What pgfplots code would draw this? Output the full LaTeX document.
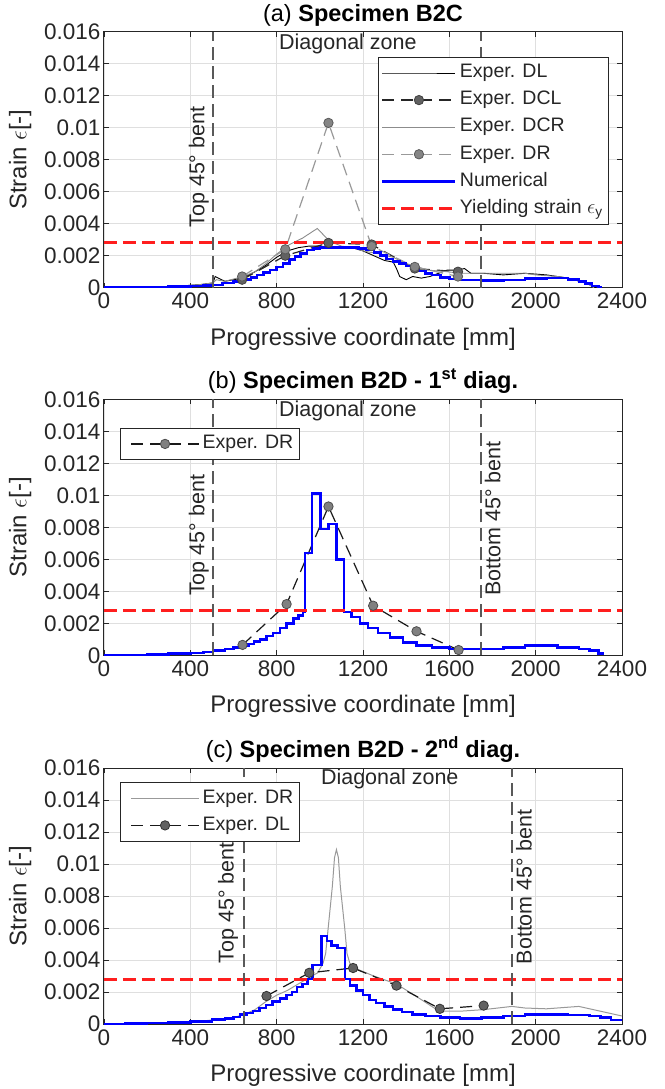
\documentclass[border=0pt]{standalone}
\usepackage{fontspec}
\setmainfont{Liberation Sans}
\usepackage{pgfplots}
\pgfplotsset{compat=1.18}
\definecolor{myred}{RGB}{255,30,30}
\definecolor{txt}{gray}{0.15}
\definecolor{vline}{gray}{0.35}
\newcommand{\tickfont}{\fontsize{22.5}{26}\selectfont}
\newcommand{\labfont}{\fontsize{24}{28}\selectfont}
\newcommand{\legfont}{\fontsize{19.5}{22}\selectfont}
\newcommand{\txtfont}{\fontsize{21.5}{25}\selectfont}
\pgfplotsset{
  panel/.style={
    width=518pt, height=256pt, scale only axis,
    xmin=0, xmax=2400, ymin=0, ymax=0.016,
    xtick={0,400,800,1200,1600,2000,2400},
    xticklabels={0,400,800,1200,1600,2000,2400},
    ytick={0,0.002,0.004,0.006,0.008,0.01,0.012,0.014,0.016},
    yticklabels={0,0.002,0.004,0.006,0.008,0.01,0.012,0.014,0.016},
    scaled y ticks=false,
    grid=major, major grid style={gray!25, line width=0.8pt},
    tick align=inside, major tick length=5pt,
    tick style={txt, line width=0.8pt},
    axis line style={txt, line width=1pt},
    ticklabel style={font=\tickfont, text=txt},
    xticklabel style={yshift=-2pt},
    xlabel={Progressive coordinate [mm]},
    ylabel={Strain $\epsilon$[-]},
    label style={font=\labfont, text=txt},
    xlabel style={at={(axis description cs:0.5,-0.2)}, anchor=center},
    ylabel style={at={(axis description cs:-0.162,0.5)}, anchor=center},
    title style={font=\fontsize{23.5}{27}\selectfont, text=black, at={(axis description cs:0.5,1)}, anchor=base, yshift=4.5pt},
    legend cell align=left,
    legend style={font=\legfont, draw=txt, line width=0.8pt, fill=white, text=txt,
      nodes={text height=14pt, text depth=4.5pt, inner ysep=4.3pt, inner xsep=3pt}},
    legend image code/.code={\draw[mark repeat=2,mark phase=2,##1] plot coordinates {(0pt,0pt) (36.5pt,0pt) (73pt,0pt)};},
  },
  shortleg/.style={legend image code/.code={\path (0pt,0pt); \draw[mark repeat=2,mark phase=2,##1] plot coordinates {(7pt,0pt) (41pt,0pt) (75pt,0pt)};}},
  numer/.style={blue, line width=2.5pt, const plot},
  yield/.style={myred, line width=3pt, dash pattern=on 13pt off 6pt},
}
\begin{document}
\begin{tikzpicture}
\path[use as bounding box] (-104pt,-801.3pt) rectangle (560pt,287.7pt);
% ---------------- (a)
\begin{axis}[panel, at={(0pt,0pt)},
  title={(a) \textbf{Specimen B2C}},
  legend style={at={(axis description cs:0.975,0.901)}, anchor=north east}]
\addplot[black, line width=0.9pt] coordinates {(0,0) (300,0.00005) (450,0.0002) (505,0.0003) (515,0.0007) (530,0.0006) (560,0.0004) (600,0.0005) (645,0.0006) (700,0.001) (750,0.0014) (800,0.0019) (850,0.0023) (900,0.0025) (950,0.0026) (1000,0.0026) (1050,0.0025) (1100,0.0025) (1150,0.0025) (1200,0.0023) (1250,0.002) (1300,0.0017) (1340,0.0016) (1355,0.0012) (1370,0.0007) (1400,0.0005) (1430,0.0007) (1470,0.0006) (1510,0.0007) (1550,0.0009) (1590,0.0011) (1640,0.0011) (1670,0.0012) (1700,0.0009) (1760,0.0009) (1850,0.0008) (1950,0.0009) (2050,0.0008) (2150,0.0006) (2230,0.0003) (2280,0)};
\addlegendentry{Exper. DL}
\addplot[black!85, line width=1.2pt, dash pattern=on 12pt off 7pt, mark=*, mark size=4.7pt, mark options={solid, fill=black!62, draw=black!75, line width=0.8pt}] coordinates {(640,0.0005) (840,0.0020) (1040,0.0028) (1240,0.0027) (1440,0.0012) (1640,0.0010)};
\addlegendentry{Exper. DCL}
\addplot[black!45, line width=0.9pt] coordinates {(0,0) (300,0.00005) (450,0.0002) (505,0.0003) (520,0.0005) (560,0.0004) (645,0.0007) (700,0.001) (750,0.0015) (800,0.0021) (860,0.0027) (920,0.0031) (988,0.0037) (1046,0.0029) (1100,0.0026) (1150,0.0025) (1200,0.0023) (1280,0.0021) (1340,0.0019) (1400,0.0015) (1430,0.0014) (1500,0.0011) (1590,0.001) (1650,0.0009) (1750,0.0009) (1850,0.0009) (1950,0.0009) (2000,0.0008) (2100,0.0007) (2150,0.0006) (2235,0.0003) (2270,0)};
\addlegendentry{Exper. DCR}
\addplot[black!40, line width=1.2pt, dash pattern=on 12pt off 7pt, mark=*, mark size=4.7pt, mark options={solid, fill=black!48, draw=black!65, line width=0.8pt}] coordinates {(640,0.0007) (840,0.0024) (1040,0.0103) (1240,0.0026) (1440,0.0013) (1640,0.0007)};
\addlegendentry{Exper. DR}
\addplot[numer] coordinates {(0,0) (100,0.00001) (200,0.00003) (300,0.00006) (400,0.0001) (460,0.00013) (505,0.00018) (550,0.00028) (600,0.0004) (640,0.0005) (680,0.00065) (710,0.0008) (740,0.00095) (770,0.0011) (800,0.0013) (830,0.0015) (860,0.00175) (885,0.00195) (910,0.00215) (940,0.00235) (970,0.00245) (1000,0.0025) (1150,0.0025) (1180,0.00245) (1215,0.00235) (1250,0.0022) (1280,0.002) (1310,0.0018) (1340,0.00165) (1370,0.0015) (1400,0.00135) (1430,0.0012) (1460,0.00105) (1490,0.0009) (1520,0.00078) (1560,0.00065) (1600,0.00055) (1650,0.00048) (1750,0.00044) (1850,0.00048) (1950,0.00058) (2050,0.00062) (2100,0.0006) (2150,0.00052) (2200,0.0004) (2230,0.00025) (2260,0.00012) (2290,0.00003) (2300,0)};
\addlegendentry{Numerical}
\addplot[yield] coordinates {(0,0.0028) (2400,0.0028)};
\addlegendentry{Yielding strain $\epsilon_{\mathrm{y}}$}
\draw[vline, line width=2pt, dash pattern=on 13pt off 6pt] (axis cs:505,0) -- (axis cs:505,0.016);
\draw[vline, line width=2pt, dash pattern=on 13pt off 6pt] (axis cs:1745,0) -- (axis cs:1745,0.016);
\node[font=\txtfont, text=txt] at (axis cs:1130,0.01523) {Diagonal zone};
\node[font=\txtfont, text=txt, rotate=90, anchor=south, inner sep=4pt] at (axis cs:505,0.00754) {Top 45° bent};
\end{axis}
% ---------------- (b)
\begin{axis}[panel, shortleg, at={(0pt,-367.6pt)},
  title={(b) \textbf{Specimen B2D - 1\textsuperscript{st} diag.}},
  legend style={at={(axis description cs:0.031,0.888)}, anchor=north west}]
\addplot[black!90, line width=1.2pt, dash pattern=on 12pt off 7pt, mark=*, mark size=4.7pt, mark options={solid, fill=black!50, draw=black!70, line width=0.8pt}] coordinates {(642,0.00065) (846,0.0032) (1040,0.0093) (1247,0.0031) (1448,0.0015) (1643,0.00033)};
\addlegendentry{Exper. DR}
\addplot[numer, forget plot] coordinates {(0,0) (100,0.00002) (200,0.00005) (300,0.0001) (400,0.00015) (460,0.0002) (505,0.0003) (560,0.0004) (600,0.0005) (640,0.0006) (670,0.0007) (695,0.00085) (722,0.001) (753,0.0012) (784,0.0014) (815,0.0017) (846,0.002) (877,0.0023) (900,0.0025) (923,0.0027) (931,0.0064) (964,0.0101) (1003,0.0079) (1039,0.0082) (1077,0.006) (1111,0.0027) (1146,0.0024) (1185,0.002) (1224,0.0017) (1270,0.0014) (1324,0.0011) (1386,0.0008) (1447,0.0006) (1520,0.0005) (1600,0.0004) (1750,0.0004) (1850,0.0005) (1950,0.0006) (2020,0.0006) (2100,0.0005) (2200,0.0004) (2250,0.0003) (2290,0.0001) (2310,0)};
\addplot[yield, forget plot] coordinates {(0,0.0028) (2400,0.0028)};
\draw[vline, line width=2pt, dash pattern=on 13pt off 6pt] (axis cs:505,0) -- (axis cs:505,0.016);
\draw[vline, line width=2pt, dash pattern=on 13pt off 6pt] (axis cs:1745,0) -- (axis cs:1745,0.016);
\node[font=\txtfont, text=txt] at (axis cs:1130,0.01526) {Diagonal zone};
\node[font=\txtfont, text=txt, rotate=90, anchor=south, inner sep=4pt] at (axis cs:505,0.0075) {Top 45° bent};
\node[font=\txtfont, text=txt, rotate=90, anchor=north, inner sep=4pt] at (axis cs:1745,0.00855) {Bottom 45° bent};
\end{axis}
% ---------------- (c)
\begin{axis}[panel, shortleg, at={(0pt,-736.3pt)},
  title={(c) \textbf{Specimen B2D - 2\textsuperscript{nd} diag.}},
  legend style={at={(axis description cs:0.031,0.944)}, anchor=north west}]
\addplot[black!40, line width=1pt] coordinates {(0,0) (200,0.00003) (400,0.0001) (500,0.00025) (600,0.0004) (650,0.0006) (700,0.0009) (750,0.0014) (800,0.0018) (850,0.0021) (900,0.0025) (950,0.0029) (990,0.0032) (1015,0.0038) (1027,0.0044) (1038,0.0059) (1058,0.0086) (1068,0.0104) (1077,0.0109) (1086,0.0104) (1095,0.0086) (1116,0.0059) (1126,0.0044) (1139,0.0038) (1160,0.0035) (1250,0.003) (1355,0.0025) (1450,0.0017) (1530,0.001) (1570,0.0008) (1650,0.0008) (1760,0.0009) (1890,0.0011) (1950,0.001) (2050,0.00095) (2200,0.0011) (2300,0.0008) (2400,0.0005)};
\addlegendentry{Exper. DR}
\addplot[black!90, line width=1.2pt, dash pattern=on 12pt off 7pt, mark=*, mark size=4.7pt, mark options={solid, fill=black!62, draw=black!80, line width=0.8pt}] coordinates {(753,0.00175) (951,0.0032) (1154,0.0035) (1355,0.0024) (1556,0.00095) (1759,0.00115)};
\addlegendentry{Exper. DL}
\addplot[numer, forget plot] coordinates {(0,0) (100,0.00002) (200,0.00005) (300,0.0001) (400,0.00017) (500,0.00027) (560,0.00035) (600,0.00045) (630,0.0006) (660,0.0007) (690,0.0008) (720,0.001) (750,0.0012) (780,0.0014) (815,0.0016) (845,0.0018) (870,0.002) (895,0.0023) (920,0.0025) (944,0.0028) (966,0.0037) (1008,0.0055) (1034,0.0052) (1054,0.0049) (1082,0.00475) (1116,0.0028) (1139,0.0024) (1170,0.0021) (1201,0.0018) (1230,0.0015) (1260,0.0013) (1300,0.0011) (1340,0.0009) (1380,0.00075) (1430,0.0006) (1490,0.0005) (1560,0.0004) (1650,0.00035) (1750,0.0004) (1850,0.0005) (1950,0.0006) (2050,0.0006) (2150,0.00055) (2250,0.0005) (2300,0.0004) (2350,0.00025) (2400,0.0002)};
\addplot[yield, forget plot] coordinates {(0,0.0028) (2400,0.0028)};
\draw[vline, line width=2pt, dash pattern=on 13pt off 6pt] (axis cs:650,0) -- (axis cs:650,0.016);
\draw[vline, line width=2pt, dash pattern=on 13pt off 6pt] (axis cs:1890,0) -- (axis cs:1890,0.016);
\node[font=\txtfont, text=txt] at (axis cs:1324,0.0153) {Diagonal zone};
\node[font=\txtfont, text=txt, rotate=90, anchor=south, inner sep=6pt] at (axis cs:650,0.00757) {Top 45° bent};
\node[font=\txtfont, text=txt, rotate=90, anchor=north, inner sep=4pt] at (axis cs:1890,0.00856) {Bottom 45° bent};
\end{axis}
\end{tikzpicture}
\end{document}
